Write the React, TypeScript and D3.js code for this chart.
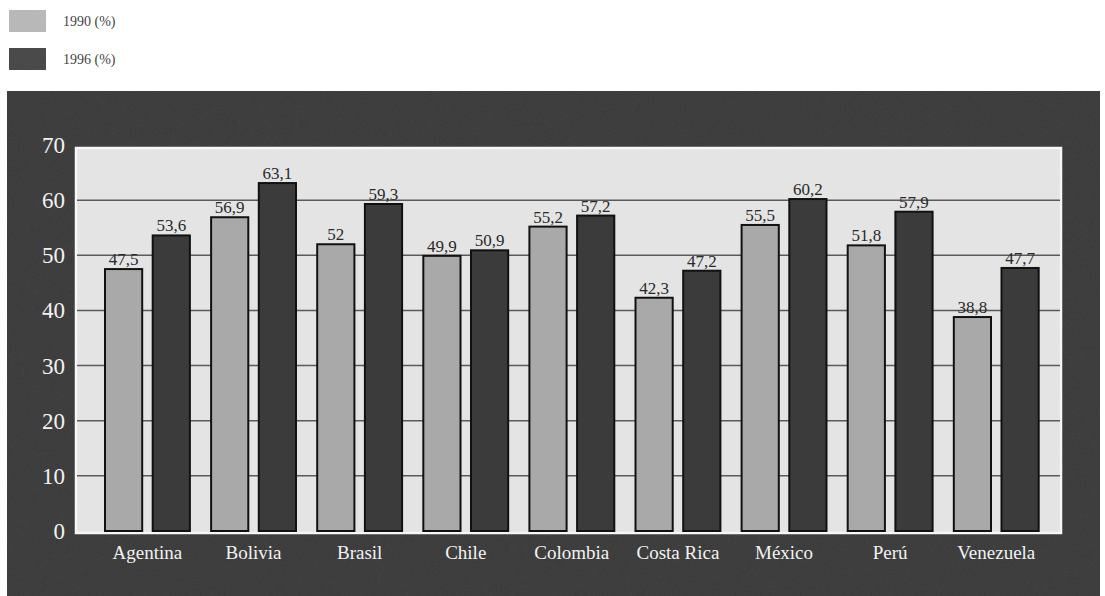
import React, { useEffect, useRef } from 'react';
import * as d3 from 'd3';

const countries = ['Agentina', 'Bolivia', 'Brasil', 'Chile', 'Colombia', 'Costa Rica', 'México', 'Perú', 'Venezuela'];
const values1990 = [47.5, 56.9, 52, 49.9, 55.2, 42.3, 55.5, 51.8, 38.8];
const values1996 = [53.6, 63.1, 59.3, 50.9, 57.2, 47.2, 60.2, 57.9, 47.7];
const labels1990 = ['47,5', '56,9', '52', '49,9', '55,2', '42,3', '55,5', '51,8', '38,8'];
const labels1996 = ['53,6', '63,1', '59,3', '50,9', '57,2', '47,2', '60,2', '57,9', '47,7'];
const seriesNames = ['1990 (%)', '1996 (%)'];
const yTicks = [0, 10, 20, 30, 40, 50, 60, 70];

const W = 1105;
const H = 596;
const FONT = '"Liberation Serif", "DejaVu Serif", serif';

const App: React.FC = () => {
  const svgRef = useRef<SVGSVGElement>(null);

  useEffect(() => {
    document.body.style.margin = '0';
    if (!svgRef.current) return;
    const svg = d3.select(svgRef.current);
    svg.selectAll('*').remove();

    const colors = ['#a9a9a9', '#3b3b3b'];

    // grain texture
    const defs = svg.append('defs');
    const f = defs.append('filter').attr('id', 'grain').attr('x', 0).attr('y', 0).attr('width', 1).attr('height', 1);
    f.append('feTurbulence').attr('type', 'fractalNoise').attr('baseFrequency', 0.9).attr('numOctaves', 2).attr('result', 'n');
    f.append('feColorMatrix').attr('in', 'n').attr('type', 'matrix')
      .attr('values', '0 0 0 0 0.5  0 0 0 0 0.5  0 0 0 0 0.5  0 0 0 0.35 0').attr('result', 'g');
    f.append('feComposite').attr('in', 'g').attr('in2', 'SourceGraphic').attr('operator', 'in').attr('result', 'gm');
    f.append('feBlend').attr('in', 'SourceGraphic').attr('in2', 'gm').attr('mode', 'overlay');

    // legend
    const legend = svg.append('g');
    seriesNames.forEach((name, i) => {
      const ly = 10 + i * 38;
      legend.append('rect').attr('x', 9).attr('y', ly).attr('width', 37).attr('height', 22)
        .attr('fill', i === 0 ? '#b8b8b8' : '#4a4a4a').attr('filter', 'url(#grain)');
      legend.append('text').attr('x', 63).attr('y', ly + 11).attr('dy', '0.35em')
        .attr('font-family', FONT).attr('font-size', 14).attr('fill', '#444').text(name);
    });

    // dark panel
    svg.append('rect').attr('x', 7).attr('y', 91).attr('width', 1093).attr('height', H - 91)
      .attr('fill', '#3d3d3d').attr('filter', 'url(#grain)');

    const y = d3.scaleLinear().domain([0, 70]).range([531, 145]);
    const x = d3.scaleBand<string>().domain(countries).range([94.4, 1049.3]).paddingInner(0.2).paddingOuter(0.1);
    const xs = d3.scaleBand<number>().domain([0, 1]).range([0, x.bandwidth()]).paddingInner(0.22);

    const plotL = 76, plotR = 1061, plotT = 148, plotB = 533;

    // plot background with white border
    svg.append('rect').attr('x', plotL).attr('y', plotT).attr('width', plotR - plotL).attr('height', plotB - plotT)
      .attr('fill', '#e4e4e4').attr('stroke', '#f7f7f7').attr('stroke-width', 2.5);

    // gridlines
    svg.append('g').selectAll('line').data(yTicks.filter(t => t > 0 && t < 70)).join('line')
      .attr('x1', plotL + 1).attr('x2', plotR - 1)
      .attr('y1', d => y(d)).attr('y2', d => y(d))
      .attr('stroke', '#5a5a5a').attr('stroke-width', 1.5);

    // y tick labels
    svg.append('g').selectAll('text').data(yTicks).join('text')
      .attr('x', 65).attr('y', d => y(d)).attr('dy', '0.35em').attr('text-anchor', 'end')
      .attr('font-family', FONT).attr('font-size', 23).attr('fill', '#f2f2f2')
      .text(d => String(d));

    // bars
    const series = [values1990, values1996];
    const labels = [labels1990, labels1996];
    series.forEach((vals, s) => {
      const g = svg.append('g');
      g.selectAll('rect').data(vals).join('rect')
        .attr('x', (_, i) => (x(countries[i]) as number) + (xs(s) as number))
        .attr('y', d => y(d))
        .attr('width', xs.bandwidth())
        .attr('height', d => y(0) - y(d))
        .attr('fill', colors[s]).attr('stroke', '#111').attr('stroke-width', 2);
      g.selectAll('text').data(vals).join('text')
        .attr('x', (_, i) => (x(countries[i]) as number) + (xs(s) as number) + xs.bandwidth() / 2)
        .attr('y', d => y(d) - 4)
        .attr('text-anchor', 'middle')
        .attr('font-family', FONT).attr('font-size', 17).attr('fill', '#2a2a2a')
        .text((_, i) => labels[s][i]);
    });

    // x labels
    svg.append('g').selectAll('text').data(countries).join('text')
      .attr('x', d => (x(d) as number) + x.bandwidth() / 2)
      .attr('y', 552).attr('dy', '0.35em').attr('text-anchor', 'middle')
      .attr('font-family', FONT).attr('font-size', 19).attr('fill', '#f2f2f2')
      .text(d => d);
  }, []);

  return <svg ref={svgRef} width={W} height={H} style={{ display: 'block', background: '#fff' }} />;
};

export default App;
